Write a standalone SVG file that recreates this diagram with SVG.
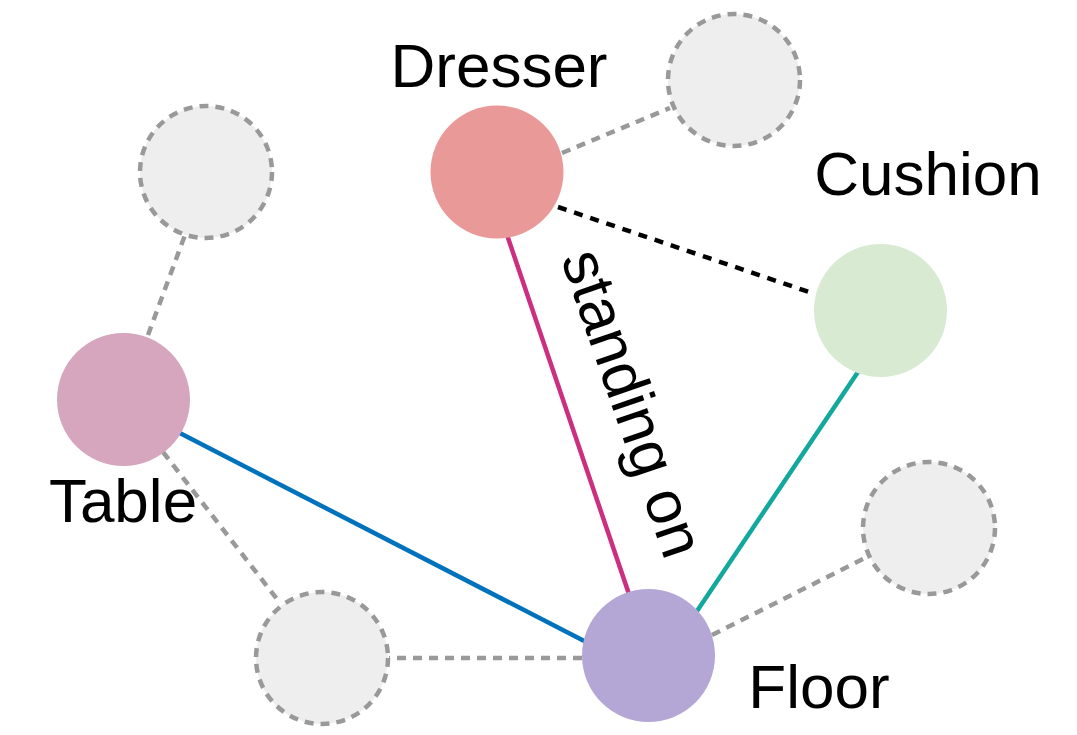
<svg xmlns="http://www.w3.org/2000/svg" width="1077" height="735" viewBox="0 0 1077 735">
<style>
.lbl{font-family:"Liberation Sans",Arial,Helvetica,sans-serif;font-size:62px;fill:#000}
.ghost{fill:#EEEEEE;stroke:#999999;stroke-width:4.5;stroke-dasharray:9 7}
.gl{stroke:#999999;stroke-width:4.5;stroke-dasharray:9 7;fill:none}
.bl{stroke:#000;stroke-width:4.5;stroke-dasharray:9 8;fill:none}
.sl{stroke-width:4.5;fill:none}
</style>
<rect width="1077" height="735" fill="#fff"/>
<g id="connectors">
<line class="gl" x1="562" y1="153" x2="670" y2="108"/>
<line class="bl" x1="558" y1="207" x2="812" y2="293"/>
<line class="sl" stroke="#CC2F80" x1="505" y1="229" x2="631" y2="600"/>
<line class="sl" stroke="#13A89E" x1="862" y1="366" x2="693" y2="617"/>
<line class="sl" stroke="#0072BC" x1="172" y1="429" x2="590" y2="644"/>
<line class="gl" x1="712" y1="635" x2="865" y2="558"/>
<line class="gl" x1="582" y1="658" x2="389" y2="658"/>
<line class="gl" x1="163" y1="452" x2="280" y2="603"/>
<line class="gl" x1="148" y1="335" x2="185" y2="235"/>
</g>
<g id="ghost-top-right"><circle class="ghost" cx="734" cy="80" r="66"/></g>
<g id="ghost-top-left"><circle class="ghost" cx="206" cy="172" r="66"/></g>
<g id="ghost-right"><circle class="ghost" cx="929" cy="528" r="66"/></g>
<g id="ghost-bottom-left"><circle class="ghost" cx="322" cy="658" r="66"/></g>
<g id="dresser">
<circle cx="497" cy="172" r="66.5" fill="#EA9999"/>
<text class="lbl" x="499" y="87" text-anchor="middle">Dresser</text>
</g>
<g id="cushion">
<circle cx="880.5" cy="310.5" r="66.5" fill="#D9EAD3"/>
<text class="lbl" x="928" y="195" text-anchor="middle">Cushion</text>
</g>
<g id="table">
<circle cx="123.5" cy="399.5" r="66.5" fill="#D5A6BD"/>
<text class="lbl" x="123" y="522" text-anchor="middle">Table</text>
</g>
<g id="floor">
<circle cx="648.5" cy="655.5" r="66.5" fill="#B4A7D6"/>
<text class="lbl" x="819" y="708" text-anchor="middle">Floor</text>
</g>
<g id="edge-label">
<text class="lbl" x="613" y="410" text-anchor="middle" transform="rotate(71 613 410)">standing on</text>
</g>
</svg>
